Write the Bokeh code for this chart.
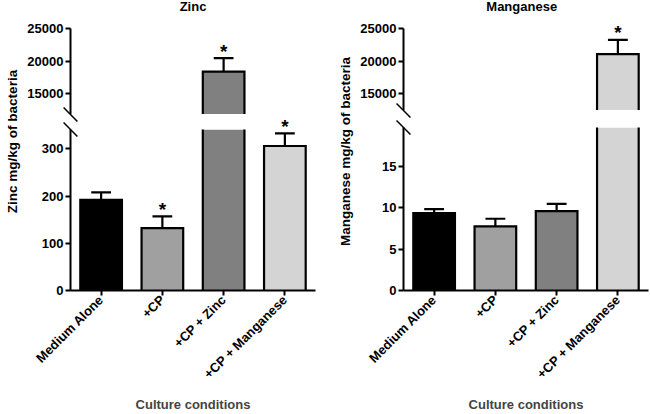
import math
from bokeh.plotting import figure
from bokeh.layouts import row, column
from bokeh.models import Range1d, FixedTicker, NumeralTickFormatter
from bokeh.embed import file_html
from bokeh.resources import INLINE
from bokeh.core.properties import value

# ---------------- data ----------------
categories = ["Medium Alone", "+CP", "+CP + Zinc", "+CP + Manganese"]
bar_colors = ["#000000", "#a0a0a0", "#808080", "#d4d4d4"]

zinc_mean = [192, 132, 18420, 306]
zinc_err = [16, 25, 2040, 27]
zinc_sig = [False, True, True, True]

manganese_mean = [9.36, 7.74, 9.6, 21070]
manganese_err = [0.48, 0.93, 0.88, 2190]
manganese_sig = [False, False, False, True]

zinc_upper_ticks = [15000, 20000, 25000]
zinc_lower_ticks = [0, 100, 200, 300]
manganese_upper_ticks = [15000, 20000, 25000]
manganese_lower_ticks = [0, 5, 10, 15]

zinc_upper_range = (11850, 25000)
zinc_lower_range = (0, 341)
manganese_upper_range = (12460, 25000)
manganese_lower_range = (0, 19.7)

FONT = "Liberation Sans"
TOTAL_H = 414
BAR_W = 0.68
SLASH = 7  # half size of the axis-break marks, px


def style_axis(ax, size="13px"):
    ax.axis_line_width = 2
    ax.axis_line_color = "black"
    ax.major_tick_line_width = 2
    ax.major_tick_line_color = "black"
    ax.major_tick_out = 5
    ax.major_tick_in = 0
    ax.minor_tick_line_color = None
    ax.major_label_standoff = 2
    ax.major_label_text_font = FONT
    ax.major_label_text_font_style = "bold"
    ax.major_label_text_font_size = size
    ax.major_label_text_color = "black"


def panel(title, mean, err, sig, up_rng, lo_rng, up_ticks, lo_ticks,
          left, frame_w, right, up_top, up_frame, up_bot, lo_top, lo_frame, lo_bot,
          title_dx=0.0):
    n = len(categories)
    idx = list(range(n))
    width = left + frame_w + right
    xr = Range1d(-0.5, n - 0.5)
    px_per_x = frame_w / n
    half_cap = 10 / px_per_x
    dx = SLASH / px_per_x
    caps = [m + e for m, e in zip(mean, err)]
    figs = []
    for part in ("upper", "lower"):
        if part == "upper":
            rng, ticks, top, fh, bot = up_rng, up_ticks, up_top, up_frame, up_bot
            show = [i for i in idx if mean[i] >= rng[0]]
            star = [i for i in idx if sig[i] and caps[i] >= rng[0]]
        else:
            rng, ticks, top, fh, bot = lo_rng, lo_ticks, lo_top, lo_frame, lo_bot
            show = list(idx)
            star = [i for i in idx if sig[i] and caps[i] <= rng[1]]
        ppy = (rng[1] - rng[0]) / fh  # data units per pixel
        p = figure(width=width, height=top + fh + bot, x_range=xr,
                   y_range=Range1d(*rng), output_backend="svg",
                   toolbar_location=None, min_border_left=left,
                   min_border_right=right, min_border_top=top,
                   min_border_bottom=bot,
                   x_axis_location=None if part == "upper" else "below",
                   outline_line_color=None)
        p.grid.visible = False

        # bars: fill, then an open outline (sides + top)
        p.vbar(x=show, top=[mean[i] for i in show], bottom=0, width=BAR_W,
               fill_color=[bar_colors[i] for i in show], line_color=None)
        p.multi_line(
            xs=[[i - BAR_W / 2, i - BAR_W / 2, i + BAR_W / 2, i + BAR_W / 2] for i in show],
            ys=[[0, mean[i], mean[i], 0] for i in show],
            line_color="black", line_width=2.2, line_join="miter")
        # error bars (upper only)
        eb = [i for i in show if caps[i] >= rng[0] and mean[i] <= rng[1]]
        p.segment(x0=eb, y0=[mean[i] for i in eb], x1=eb, y1=[caps[i] for i in eb],
                  line_color="black", line_width=2.2)
        p.segment(x0=[i - half_cap for i in eb], y0=[caps[i] for i in eb],
                  x1=[i + half_cap for i in eb], y1=[caps[i] for i in eb],
                  line_color="black", line_width=2.2)

        # significance stars
        if star:
            p.text(x=star, y=[caps[i] for i in star], text=["*"] * len(star),
                   text_font=value(FONT), text_font_style="bold",
                   text_font_size="19px", text_align="center",
                   text_baseline="alphabetic", y_offset=-7, text_color="black",
                   level="overlay")

        # axis break marks (centres in screen offsets from the frame edge)
        if part == "upper":
            centres = [rng[0]]
        else:
            gap_px = up_bot + lo_top  # distance between the two frames
            centres = [rng[1], rng[1] + gap_px * ppy]
        dy = SLASH * ppy
        p.segment(x0=[-0.5 - dx] * len(centres), y0=[c + dy for c in centres],
                  x1=[-0.5 + dx] * len(centres), y1=[c - dy for c in centres],
                  line_color="black", line_width=1.5, level="overlay")

        p.yaxis.ticker = FixedTicker(ticks=ticks)
        p.yaxis.formatter = NumeralTickFormatter(format="0")
        style_axis(p.yaxis[0])

        if part == "upper":
            p.text(x=[(n - 1) / 2 + title_dx], y=[rng[1] + 22 * ppy], text=[title],
                   text_font=value(FONT), text_font_style="bold",
                   text_font_size="13px", text_align="center",
                   text_baseline="middle", text_color="black", level="overlay")
        else:
            p.xaxis.ticker = FixedTicker(ticks=idx)
            p.xaxis.major_label_overrides = {i: c for i, c in zip(idx, categories)}
            p.xaxis.major_label_orientation = math.pi / 4
            style_axis(p.xaxis[0], size="13px")
            p.xaxis.axis_label = "Culture conditions"
            p.xaxis.axis_label_text_font = FONT
            p.xaxis.axis_label_text_font_style = "bold"
            p.xaxis.axis_label_text_font_size = "13px"
            p.xaxis.axis_label_standoff = 7
        figs.append(p)
    return column(*figs, spacing=0)


def label_fig(text, w, cy):
    f = figure(width=w, height=TOTAL_H, x_range=Range1d(0, w),
               y_range=Range1d(0, TOTAL_H), output_backend="svg",
               toolbar_location=None, min_border=0, outline_line_color=None,
               x_axis_location=None, y_axis_location=None)
    f.grid.visible = False
    f.text(x=[w / 2], y=[TOTAL_H - cy], text=[text], angle=math.pi / 2,
           text_font=value(FONT), text_font_style="bold",
           text_font_size="13.5px", text_align="center",
           text_baseline="middle", text_color="black")
    return f


zinc_panel = panel("Zinc", zinc_mean, zinc_err, zinc_sig,
                   zinc_upper_range, zinc_lower_range,
                   zinc_upper_ticks, zinc_lower_ticks,
                   left=43, frame_w=248, right=18,
                   up_top=28, up_frame=86, up_bot=0,
                   lo_top=15, lo_frame=161, lo_bot=124)
mn_panel = panel("Manganese", manganese_mean, manganese_err, manganese_sig,
                 manganese_upper_range, manganese_lower_range,
                 manganese_upper_ticks, manganese_lower_ticks,
                 left=44, frame_w=247, right=2,
                 up_top=28, up_frame=82, up_bot=0,
                 lo_top=17, lo_frame=163, lo_bot=124, title_dx=-0.07)

zinc_label = label_fig("Zinc mg/kg of bacteria", 24, 141)
mn_label = label_fig("Manganese mg/kg of bacteria", 24, 151)

layout = row(zinc_label, zinc_panel, mn_label, mn_panel, spacing=0)

open("out.html", "w").write(file_html(layout, INLINE))
